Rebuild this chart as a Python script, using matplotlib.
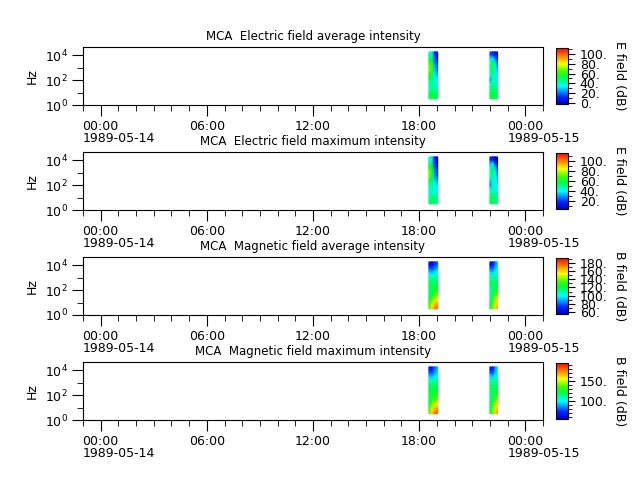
import numpy as np
import matplotlib
matplotlib.use("Agg")
import matplotlib.pyplot as plt
import matplotlib.dates as mdates
from matplotlib.colors import LinearSegmentedColormap
from matplotlib.ticker import MultipleLocator, FormatStrFormatter, LogLocator, NullFormatter
from matplotlib.transforms import blended_transform_factory, offset_copy
from datetime import datetime

# MCA channel centre frequencies (Hz)
freqs = [3.16, 5.62, 10.0, 17.8, 31.6, 56.2, 100.0, 178.0, 316.0, 562.0,
         1000.0, 1780.0, 3160.0, 5620.0, 10000.0, 17800.0]

# sample times of the two passes
times_a = ["1989-05-14 18:33", "1989-05-14 18:43", "1989-05-14 18:53", "1989-05-14 19:03"]
times_b = ["1989-05-14 22:00", "1989-05-14 22:09", "1989-05-14 22:18", "1989-05-14 22:26"]

# intensities in dB, rows = frequency channel (low -> high), cols = time
e_avg_a = [[48, 52, 50, 48], [50, 55, 52, 50], [45, 52, 50, 48], [40, 48, 45, 42],
           [38, 45, 42, 40], [40, 45, 40, 38], [45, 48, 38, 35], [55, 50, 35, 30],
           [62, 55, 32, 25], [68, 60, 30, 20], [70, 62, 28, 18], [65, 60, 25, 15],
           [55, 55, 20, 12], [50, 50, 15, 10], [45, 40, 12, 8], [40, 35, 10, 5]]
e_avg_b = [[50, 52, 50, 48], [52, 55, 52, 50], [50, 55, 50, 48], [45, 52, 48, 45],
           [40, 48, 45, 42], [35, 45, 42, 40], [25, 42, 40, 38], [30, 45, 40, 35],
           [35, 48, 40, 32], [40, 50, 38, 30], [45, 55, 40, 25], [40, 55, 35, 20],
           [35, 50, 30, 15], [30, 40, 20, 10], [20, 15, 8, 5], [15, 10, 5, 5]]

e_max_a = [[50, 55, 52, 50], [52, 58, 55, 52], [48, 55, 52, 50], [42, 50, 48, 45],
           [40, 48, 45, 42], [42, 48, 42, 40], [48, 50, 40, 38], [58, 52, 38, 32],
           [65, 58, 35, 28], [72, 62, 32, 22], [74, 65, 30, 20], [68, 62, 28, 18],
           [58, 58, 22, 15], [52, 52, 18, 12], [48, 42, 15, 10], [42, 38, 12, 8]]
e_max_b = [[52, 55, 52, 50], [55, 58, 55, 52], [52, 58, 52, 50], [48, 55, 50, 48],
           [42, 50, 48, 45], [38, 48, 45, 42], [28, 45, 42, 40], [32, 48, 42, 38],
           [38, 50, 42, 35], [42, 52, 40, 32], [48, 58, 42, 28], [42, 58, 38, 22],
           [38, 52, 32, 18], [32, 42, 22, 12], [22, 18, 10, 8], [18, 12, 8, 8]]

b_avg_a = [[135, 160, 172, 175], [130, 155, 168, 172], [125, 145, 160, 165], [120, 135, 150, 155],
           [115, 125, 140, 145], [112, 122, 130, 135], [115, 120, 125, 128], [118, 120, 122, 122],
           [115, 118, 118, 118], [112, 115, 115, 115], [108, 110, 110, 110], [100, 100, 105, 105],
           [90, 88, 95, 100], [80, 75, 85, 90], [70, 65, 75, 85], [65, 60, 70, 80]]
b_avg_b = [[120, 138, 158, 168], [118, 135, 155, 165], [115, 130, 150, 160], [112, 125, 145, 155],
           [110, 120, 138, 145], [108, 118, 130, 135], [110, 115, 125, 128], [112, 115, 120, 122],
           [115, 118, 118, 118], [115, 115, 115, 115], [112, 110, 112, 112], [105, 102, 108, 108],
           [92, 90, 100, 105], [80, 78, 92, 100], [70, 68, 85, 98], [65, 60, 80, 95]]

b_max_a = [[140, 165, 178, 182], [135, 160, 172, 178], [130, 150, 165, 170], [125, 140, 155, 160],
           [120, 130, 145, 150], [118, 128, 135, 140], [120, 125, 130, 132], [122, 125, 126, 126],
           [120, 122, 122, 122], [118, 120, 120, 120], [112, 115, 115, 115], [105, 105, 110, 110],
           [95, 92, 100, 105], [85, 80, 92, 98], [75, 72, 85, 95], [70, 68, 82, 92]]
b_max_b = [[125, 142, 162, 172], [122, 140, 160, 170], [120, 135, 155, 165], [118, 130, 150, 160],
           [115, 125, 142, 150], [112, 122, 135, 140], [114, 120, 130, 132], [116, 120, 124, 126],
           [118, 122, 122, 122], [118, 118, 118, 118], [115, 114, 115, 115], [108, 106, 112, 112],
           [96, 94, 104, 108], [84, 82, 96, 104], [74, 72, 90, 102], [70, 66, 86, 100]]

titles = ["MCA  Electric field average intensity", "MCA  Electric field maximum intensity",
          "MCA  Magnetic field average intensity", "MCA  Magnetic field maximum intensity"]
cb_labels = ["E field (dB)", "E field (dB)", "B field (dB)", "B field (dB)"]
vranges = [(-3, 113), (5, 116), (55, 192), (56, 195)]
cb_steps = [(20, 10), (20, 10), (20, 10), (50, 10)]
panels = [(e_avg_a, e_avg_b), (e_max_a, e_max_b), (b_avg_a, b_avg_b), (b_max_a, b_max_b)]

t0 = datetime(1989, 5, 13, 23, 0)
t1 = datetime(1989, 5, 15, 1, 0)

# rainbow without the dark ends of jet
rainbow = LinearSegmentedColormap.from_list("rainbow_spec", [
    (0.0, '#0000c0'), (0.12, '#0020ff'), (0.32, '#00ffff'), (0.48, '#00ff40'),
    (0.58, '#40ff00'), (0.72, '#ffff00'), (0.86, '#ff8000'), (1.0, '#ff0000')])

plt.rcParams['font.size'] = 9

fig = plt.figure(figsize=(6.4, 4.8), dpi=100)

def to_num(ts):
    return mdates.date2num([datetime.strptime(s, "%Y-%m-%d %H:%M") for s in ts])

for i in range(4):
    bottom = 1 - (105 + 105 * i) / 480
    h = 58 / 480
    ax = fig.add_axes([83 / 640, bottom, 460 / 640, h])
    vmin, vmax = vranges[i]
    for ts, z in zip((times_a, times_b), panels[i]):
        X, Y = np.meshgrid(to_num(ts), freqs)
        mesh = ax.pcolormesh(X, Y, np.array(z, dtype=float), shading='gouraud',
                             cmap=rainbow, vmin=vmin, vmax=vmax)
    ax.set_yscale('log')
    ax.set_ylim(1, 4.4e4)
    ax.yaxis.set_major_locator(LogLocator(base=100.0))
    ax.yaxis.set_minor_locator(LogLocator(base=10.0, numticks=10))
    ax.yaxis.set_minor_formatter(NullFormatter())
    ax.set_ylabel("Hz")
    ax.set_xlim(t0, t1)
    ax.xaxis.set_major_locator(mdates.HourLocator(byhour=[0, 6, 12, 18]))
    ax.xaxis.set_minor_locator(mdates.HourLocator())
    ax.xaxis.set_major_formatter(mdates.DateFormatter("%H:%M"))
    ax.tick_params(which='major', length=8, pad=3, direction='out')
    ax.tick_params(which='minor', length=4.5, direction='out')
    ax.set_title(titles[i], fontsize=8.5, pad=5)

    # date under the midnight labels
    base = blended_transform_factory(ax.transData, ax.transAxes)
    for day in (datetime(1989, 5, 14), datetime(1989, 5, 15)):
        tr = offset_copy(base, fig=fig, x=-13, y=-19.5, units='points')
        ax.text(mdates.date2num(day), 0, day.strftime("%Y-%m-%d"), transform=tr,
                ha='left', va='top', fontsize=9)

    cax = fig.add_axes([556 / 640, bottom + 1 / 480, 12 / 640, 56 / 480])
    cb = fig.colorbar(mesh, cax=cax)
    major, minor = cb_steps[i]
    cb.ax.yaxis.set_major_locator(MultipleLocator(major))
    cb.ax.yaxis.set_minor_locator(MultipleLocator(minor))
    cb.ax.yaxis.set_major_formatter(FormatStrFormatter('%d.'))
    cb.ax.tick_params(which='major', length=5, labelsize=9)
    cb.ax.tick_params(which='minor', length=3)
    cb.set_label(cb_labels[i], rotation=270, labelpad=13)

fig.savefig("out.png", dpi=100)
